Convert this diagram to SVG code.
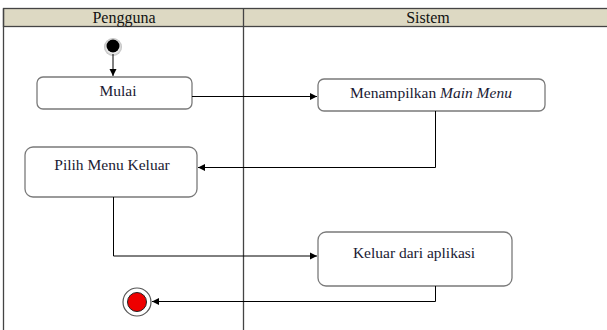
<svg xmlns="http://www.w3.org/2000/svg" width="607" height="330" viewBox="0 0 607 330">
<defs>
<style>
.lane{stroke:#444;stroke-width:1.3;fill:none}
.hdr{font-size:16px;fill:#111;text-anchor:middle}
.box{fill:#fff;stroke:#7a7a7a;stroke-width:1.3}
.lbl{font-size:15.5px;fill:#1a1a33;text-anchor:middle}
.con{stroke:#000;stroke-width:1;fill:none}
</style>
<marker id="arr" markerWidth="8" markerHeight="8" refX="7" refY="4" orient="auto" markerUnits="userSpaceOnUse">
<path d="M0,0.5 L7,4 L0,7.5 Z" fill="#000"/>
</marker>
<radialGradient id="halo" cx="50%" cy="50%" r="50%">
<stop offset="60%" stop-color="#fff"/>
<stop offset="100%" stop-color="#bbb"/>
</radialGradient>
</defs>
<g id="swimlanes" font-family="Liberation Serif, DejaVu Serif, serif">
<rect x="3.5" y="8.5" width="610" height="18" fill="#ddd9c3" stroke="#444" stroke-width="1.3"/>
<line class="lane" x1="3.5" y1="8.5" x2="3.5" y2="330"/>
<line class="lane" x1="243.5" y1="8.5" x2="243.5" y2="330"/>
<text class="hdr" x="124" y="22.5">Pengguna</text>
<text class="hdr" x="428" y="22.5">Sistem</text>
</g>
<g id="start">
<circle cx="113" cy="47" r="9" fill="url(#halo)"/>
<circle cx="113" cy="46" r="6.5" fill="#000"/>
</g>
<g id="mulai" font-family="Liberation Serif, DejaVu Serif, serif">
<rect class="box" x="37" y="77" width="155" height="32" rx="6"/>
<text class="lbl" x="118" y="95.5">Mulai</text>
</g>
<g id="menampilkan" font-family="Liberation Serif, DejaVu Serif, serif">
<rect class="box" x="318" y="79" width="227" height="32" rx="6"/>
<text class="lbl" x="431" y="97.5">Menampilkan <tspan font-style="italic">Main Menu</tspan></text>
</g>
<g id="pilih" font-family="Liberation Serif, DejaVu Serif, serif">
<rect class="box" x="25" y="147" width="172" height="50" rx="8"/>
<text class="lbl" x="112" y="169.5">Pilih Menu Keluar</text>
</g>
<g id="keluar" font-family="Liberation Serif, DejaVu Serif, serif">
<rect class="box" x="318" y="232" width="194" height="54" rx="8"/>
<text class="lbl" x="414" y="257.5">Keluar dari aplikasi</text>
</g>
<g id="end">
<circle cx="137" cy="302" r="14" fill="#fff" stroke="#555" stroke-width="1.2"/>
<circle cx="137" cy="302" r="9.5" fill="#ee0000" stroke="#222" stroke-width="1"/>
</g>
<g id="connectors">
<polyline class="con" points="113,54 113,76" marker-end="url(#arr)"/>
<polyline class="con" points="192,96.5 317,96.5" marker-end="url(#arr)"/>
<polyline class="con" points="435.5,111 435.5,167.5 198,167.5" marker-end="url(#arr)"/>
<polyline class="con" points="113.5,197 113.5,256 317,256" marker-end="url(#arr)"/>
<polyline class="con" points="435.5,286 435.5,301.5 152,301.5" marker-end="url(#arr)"/>
</g>
</svg>
